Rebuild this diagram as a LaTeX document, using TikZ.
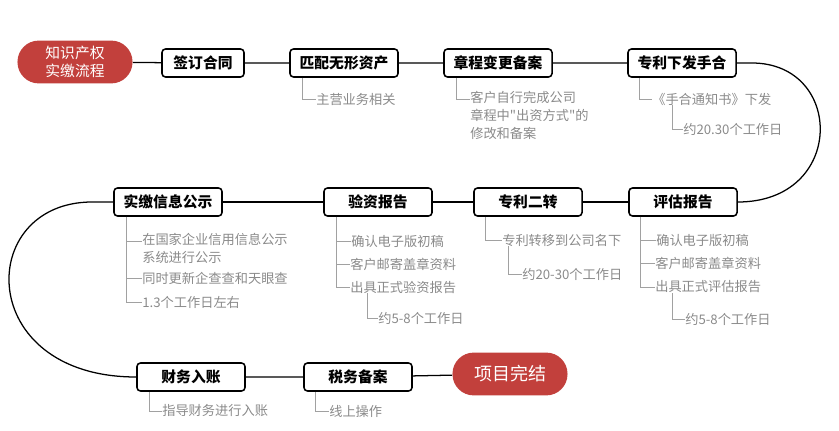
\documentclass[tikz,border=0pt]{standalone}
\usepackage{fontspec}
\newfontfamily\cjk{Noto Sans CJK SC}
\usetikzlibrary{calc}

\definecolor{pillred}{HTML}{C2403C}
\definecolor{subgray}{HTML}{8A8A8A}

\tikzset{
  stepbox/.style={draw=black, line width=1.1pt, rounded corners=2.5pt, fill=white,
    minimum width=2.7cm, minimum height=0.7cm, inner sep=0pt,
    font=\cjk\bfseries\fontsize{10.5}{12}\selectfont},
  pill/.style={fill=pillred, rounded corners=0.53cm, text=white, align=center,
    minimum width=2.875cm, minimum height=1.07cm, inner sep=0pt,
    font=\cjk\fontsize{10.5}{12.5}\selectfont},
  note/.style={anchor=west, text=subgray, inner sep=0pt, align=left,
    font=\cjk\fontsize{9.4}{12.8}\selectfont},
  mainline/.style={line width=0.9pt},
  subline/.style={draw=subgray!80, line width=0.6pt}
}

\begin{document}
\begin{tikzpicture}[x=0.025cm, y=-0.025cm]

\useasboundingbox (0,0) rectangle (839,431);

% first row
\node[pill] (start) at (75,62) {知识产权\\实缴流程};
\node[stepbox, minimum width=2.05cm] (hetong) at (203,63) {签订合同};
\node[stepbox] (pipei) at (344,63) {匹配无形资产};
\node[stepbox] (zhangcheng) at (498,63) {章程变更备案};
\node[stepbox] (shouhe) at (682,63) {专利下发手合};

% second row
\node[stepbox] (pinggu) at (683,202) {评估报告};
\node[stepbox] (erzhuan) at (528,202) {专利二转};
\node[stepbox] (yanzi) at (378,202) {验资报告};
\node[stepbox] (gongshi) at (168,202) {实缴信息公示};

% third row
\node[stepbox] (ruzhang) at (191,377) {财务入账};
\node[stepbox] (shuiwu) at (358,377) {税务备案};
\node[pill, font=\cjk\fontsize{12.8}{14}\selectfont] (finish) at (510,374) {项目完结};

% main flow
\draw[mainline] (start) -- (hetong) -- (pipei) -- (zhangcheng) -- (shouhe);
\draw[mainline] (shouhe.east) -- ++(15,0) .. controls +(93,0) and +(108,0) .. (pinggu.east);
\draw[mainline] (pinggu) -- (erzhuan) -- (yanzi) -- (gongshi);
\draw[mainline] (gongshi.west) -- ++(-21,0) .. controls +(-117,0) and +(-162,0) .. (ruzhang.west);
\draw[mainline] (ruzhang) -- (shuiwu) -- (finish);

% notes, first row
\node[note] (zhuying) at (316,99) {主营业务相关};
\draw[subline] ($(pipei.south west)+(13,0)$) |- (zhuying.west);

\node[note, anchor=north west] (kehu) at (470,91) {客户自行完成公司\\章程中"出资方式"的\\修改和备案};
\draw[subline] ($(zhangcheng.south west)+(13,0)$) |- ($(kehu.north west)+(0,8)$);

\node[note] (tongzhi) at (652,99) {《手合通知书》下发};
\draw[subline] ($(shouhe.south west)+(12,0)$) |- (tongzhi.west);
\node[note] (shouheday) at (683,129) {约20.30个工作日};
\draw[subline] ($(tongzhi.south west)+(20,0)$) |- (shouheday.west);

% notes, second row
\node[note, anchor=north west] (guojia) at (142,233) {在国家企业信用信息公示\\系统进行公示};
\node[note] (qichacha) at (142,278) {同时更新企查查和天眼查};
\node[note] (gongshiday) at (142,302) {1.3个工作日左右};
\draw[subline] ($(gongshi.south west)+(13,0)$) |- (gongshiday.west);
\draw[subline] ($(gongshi.south west)+(13,0)$) |- ($(guojia.north west)+(0,8)$);
\draw[subline] ($(gongshi.south west)+(13,0)$) |- (qichacha.west);

\node[note] (yzqueren) at (351,241) {确认电子版初稿};
\node[note] (yzyouji) at (350,264) {客户邮寄盖章资料};
\node[note] (yzchuju) at (350,287) {出具正式验资报告};
\draw[subline] ($(yanzi.south west)+(13,0)$) |- (yzchuju.west);
\draw[subline] ($(yanzi.south west)+(13,0)$) |- (yzqueren.west);
\draw[subline] ($(yanzi.south west)+(13,0)$) |- (yzyouji.west);
\node[note] (yzday) at (378,318) {约5-8个工作日};
\draw[subline] ($(yzchuju.south west)+(17,0)$) |- (yzday.west);

\node[note] (zhuanyi) at (502,240) {专利转移到公司名下};
\draw[subline] ($(erzhuan.south west)+(12,0)$) |- (zhuanyi.west);
\node[note] (erzhuanday) at (522,274) {约20-30个工作日};
\draw[subline] ($(zhuanyi.south west)+(6,0)$) |- (erzhuanday.west);

\node[note] (pgqueren) at (656,240) {确认电子版初稿};
\node[note] (pgyouji) at (655,263) {客户邮寄盖章资料};
\node[note] (pgchuju) at (655,287) {出具正式评估报告};
\draw[subline] ($(pinggu.south west)+(12,0)$) |- (pgchuju.west);
\draw[subline] ($(pinggu.south west)+(12,0)$) |- (pgqueren.west);
\draw[subline] ($(pinggu.south west)+(12,0)$) |- (pgyouji.west);
\node[note] (pgday) at (685,319) {约5-8个工作日};
\draw[subline] ($(pgchuju.south west)+(17,0)$) |- (pgday.west);

% notes, third row
\node[note] (zhidao) at (162,411) {指导财务进行入账};
\draw[subline] ($(ruzhang.south west)+(13,0)$) |- (zhidao.west);
\node[note] (xianshang) at (329,411) {线上操作};
\draw[subline] ($(shuiwu.south west)+(12,0)$) |- (xianshang.west);

\end{tikzpicture}
\end{document}
